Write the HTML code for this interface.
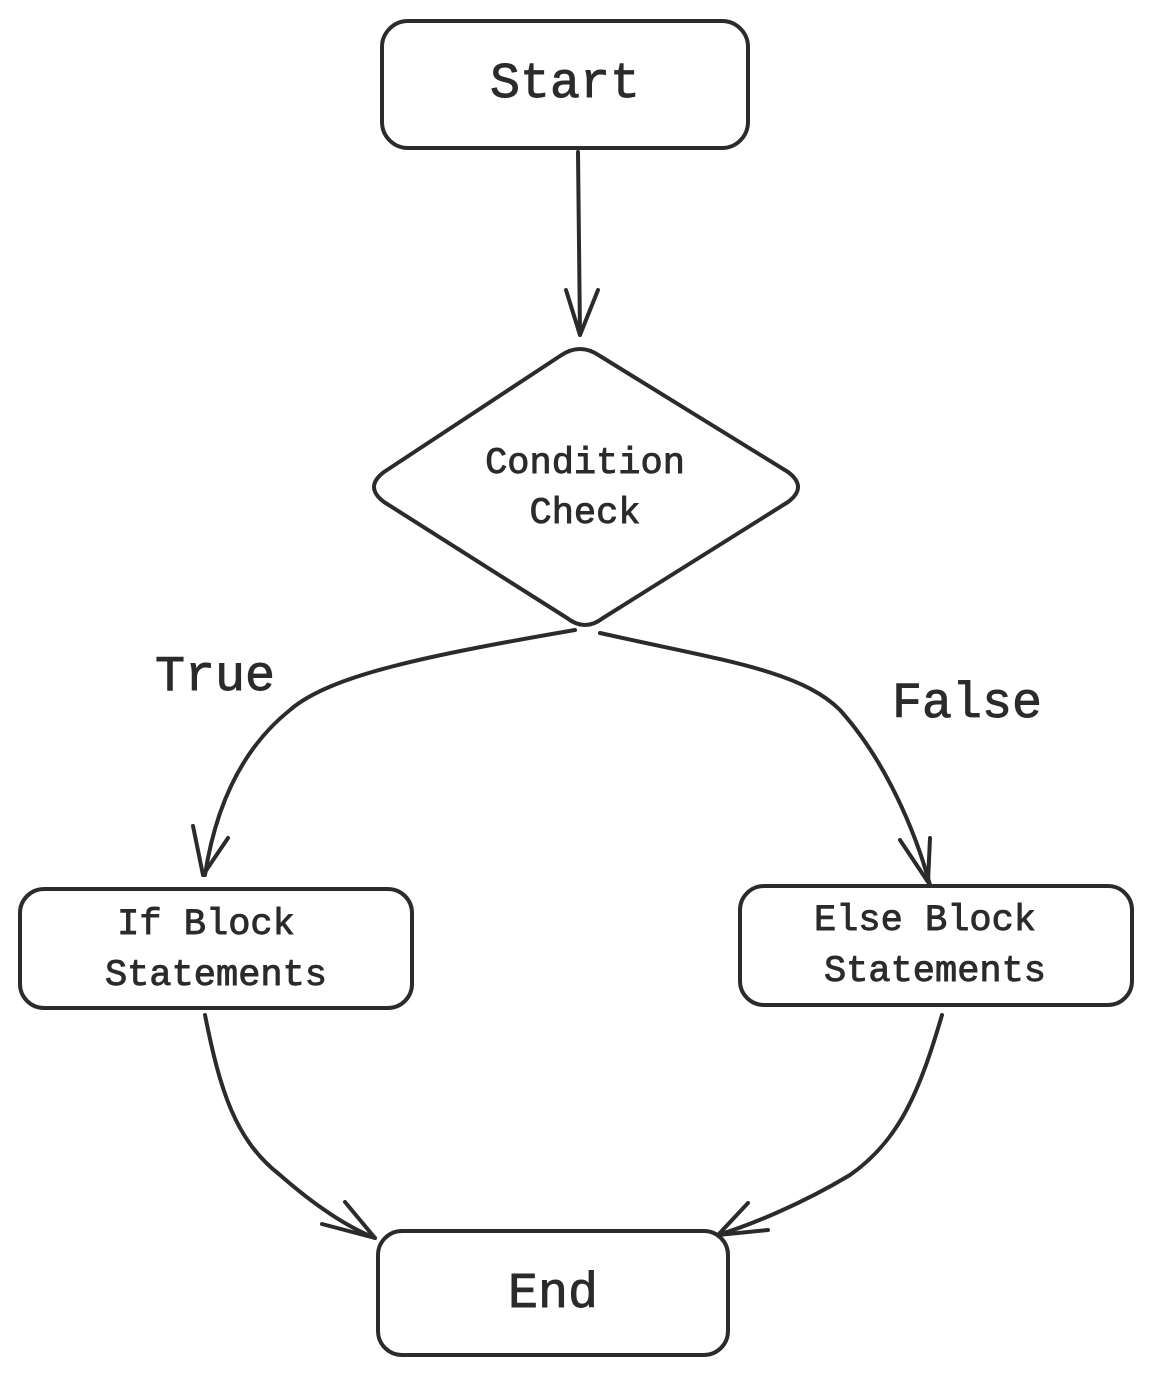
<!DOCTYPE html>
<html><head><meta charset="utf-8"><style>
html,body{margin:0;padding:0;background:#fff;}
svg{display:block;}
text{font-family:"Liberation Mono",monospace;fill:#2b2b2b;stroke:#2b2b2b;stroke-width:0.9;}
</style></head><body>
<svg width="1152" height="1375" viewBox="0 0 1152 1375" xmlns="http://www.w3.org/2000/svg">
<g fill="none" stroke="#2b2b2b" stroke-width="4" stroke-linecap="round" stroke-linejoin="round">
<rect x="382" y="21" width="366" height="127" rx="26"/>
<path d="M560 356 Q580 342 600 356 L788 472 Q808 487 788 502 L603 618 Q585 632 567 618 L384 502 Q364 487 384 472 Z"/>
<rect x="20" y="889" width="392" height="119" rx="24"/>
<rect x="740" y="886" width="392" height="119" rx="24"/>
<rect x="378" y="1231" width="350" height="124" rx="24"/>
<path d="M578 152 L580 335"/>
<path d="M566 290 L580 335 L598 290"/>
<path d="M575 630 C430 655 330 675 290 710 C240 750 215 810 205 875"/>
<path d="M193 826 L203 875 L228 838"/>
<path d="M600 633 C720 660 800 670 840 710 C885 760 915 830 930 885"/>
<path d="M900 840 L928 882 L930 838"/>
<path d="M205 1015 C220 1090 235 1140 280 1175 C320 1210 350 1228 375 1238"/>
<path d="M322 1224 L375 1238 L345 1202"/>
<path d="M942 1015 C920 1090 900 1140 850 1175 C800 1205 750 1225 718 1235"/>
<path d="M748 1203 L718 1235 L768 1230"/>
</g>
<text x="565" y="97" font-size="50" text-anchor="middle">Start</text>
<text x="585" y="473" font-size="37" text-anchor="middle">Condition</text>
<text x="585" y="523" font-size="37" text-anchor="middle">Check</text>
<text x="215" y="690" font-size="50" text-anchor="middle">True</text>
<text x="967" y="717" font-size="50" text-anchor="middle">False</text>
<text x="206" y="934" font-size="37" text-anchor="middle">If Block</text>
<text x="216" y="985" font-size="37" text-anchor="middle">Statements</text>
<text x="925" y="930" font-size="37" text-anchor="middle">Else Block</text>
<text x="935" y="981" font-size="37" text-anchor="middle">Statements</text>
<text x="553" y="1307" font-size="50" text-anchor="middle">End</text>
</svg>
</body></html>
